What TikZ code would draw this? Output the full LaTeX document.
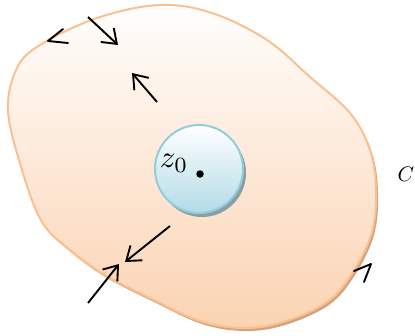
\documentclass[tikz,border=0pt]{standalone}
\usepackage{graphicx}
\usetikzlibrary{arrows.meta}
\definecolor{blobline}{HTML}{FAC090}
\definecolor{blobbot}{HTML}{FBD3B2}
\definecolor{blobtop}{HTML}{FFFEFD}
\definecolor{blobshadow}{HTML}{D3A27F}
\definecolor{discline}{HTML}{92CDDC}
\definecolor{discbot}{HTML}{B3DBE6}
\definecolor{discshadow}{HTML}{8A9FA3}
\tikzset{
  flowarrow/.style={line width=1.9pt, -{Straight Barb[length=13pt,width=19pt,line width=1.9pt]}},
  barb/.style={line width=1.9pt, line cap=round, line join=round},
  bigmath/.style={inner sep=0pt},
}
\begin{document}
\begin{tikzpicture}[x=1pt,y=-1pt]
\useasboundingbox (0,0) rectangle (415,335);
\def\blobpath{plot[smooth cycle, tension=0.6] coordinates {(160,5) (212,13) (267,40) (310,77) (350,113) (370,150) (376,190) (372,232) (353,272) (327,302) (283,322) (243,328) (200,321) (150,298) (105,275) (70,250) (42,222) (22,170) (8,110) (18,66) (45,42) (100,17)}}
% blob shadow
\fill[blobshadow] [shift={(2,3)}] \blobpath;
% blob
\path[top color=blobtop, bottom color=blobbot] \blobpath;
\draw[blobline, line width=2pt] \blobpath;
% disc
\fill[discshadow] (202,173) circle (44);
\shade[top color=white, bottom color=discbot] (199,169) circle (44);
\draw[discline, line width=2pt] (199,169) circle (44);
\node[circle, fill=black, inner sep=0pt, minimum size=7.5pt] (z0dot) at (200,174) {};
\node[bigmath] (z0) at (174,163) {\scalebox{3.1}{$z_0$}};
\node[bigmath] (C) at (406,174) {\scalebox{2.1}{$C$}};
% arrows
\coordinate (a1s) at (88,17);  \coordinate (a1e) at (118,45);
\coordinate (a2s) at (157,102); \coordinate (a2e) at (132,73);
\coordinate (a3s) at (170,226); \coordinate (a3e) at (125,262);
\coordinate (a4s) at (88,303);  \coordinate (a4e) at (119,264);
\draw[flowarrow] (a1s) -- (a1e);
\draw[flowarrow] (a2s) -- (a2e);
\draw[flowarrow] (a3s) -- (a3e);
\draw[flowarrow] (a4s) -- (a4e);
% orientation marks on C
\coordinate (m1a) at (63,29); \coordinate (m1t) at (48,41); \coordinate (m1b) at (68,43);
\coordinate (m2a) at (354,271); \coordinate (m2t) at (371,264); \coordinate (m2b) at (364,282);
\draw[barb] (m1a) -- (m1t) -- (m1b);
\draw[barb] (m2a) -- (m2t) -- (m2b);
\end{tikzpicture}
\end{document}
